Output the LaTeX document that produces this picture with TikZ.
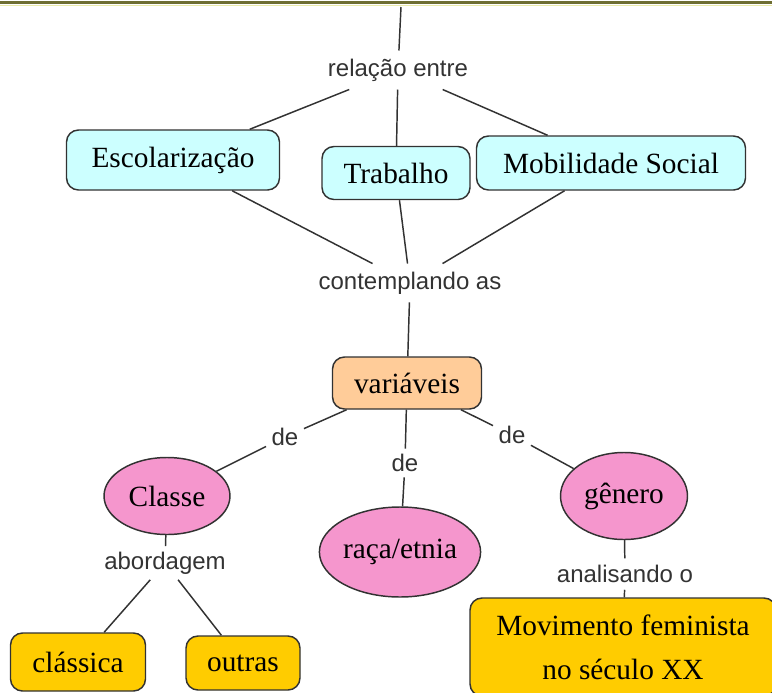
\documentclass[tikz,border=0pt]{standalone}
\usepackage{fontspec}
\setmainfont{Liberation Serif}
\setsansfont{Liberation Sans}
\usepackage{xcolor}
\usetikzlibrary{shapes.geometric}
\definecolor{mapCyan}{RGB}{204,255,255}
\definecolor{mapPeach}{RGB}{255,204,153}
\definecolor{mapPink}{RGB}{245,150,205}
\definecolor{mapGold}{RGB}{255,204,0}
\definecolor{mapLine}{RGB}{50,50,50}
\definecolor{mapOlive}{RGB}{110,110,50}
\definecolor{mapPale}{RGB}{235,235,170}

\tikzset{
  concept/.style={draw=mapLine, line width=1.1pt, rounded corners=9pt, inner sep=0pt,
    font=\fontsize{22}{33}\selectfont},
  bubble/.style={ellipse, draw=mapLine, line width=1.1pt, fill=mapPink, inner sep=0pt,
    font=\fontsize{22}{26}\selectfont},
  linkword/.style={font=\sffamily\fontsize{18}{21}\selectfont, text=black!80, inner sep=6pt},
  conn/.style={draw=mapLine, line width=1.1pt}
}

\begin{document}
\begin{tikzpicture}[x=0.75pt, y=-0.75pt]
\useasboundingbox (0,0) rectangle (772,693);
\clip (0,0) rectangle (772,693);
\fill[white] (0,0) rectangle (772,693);
\draw[mapOlive, line width=2.2pt] (0,2.5) -- (772,2.5);
\draw[mapPale, line width=0.9pt] (0,5.5) -- (772,5.5);

% top level
\coordinate (top) at (401,7);
\node[linkword] (rel) at (398,70) {relação entre};
\node[concept, fill=mapCyan, minimum width=159.75pt, minimum height=45pt] (esc) at (173,160) {Escolarização};
\node[concept, fill=mapCyan, minimum width=111pt, minimum height=39.75pt] (trab) at (396,173) {Trabalho};
\node[concept, fill=mapCyan, minimum width=201.75pt, minimum height=40.5pt] (mob) at (611,163) {Mobilidade Social};
\node[linkword] (cont) at (410,283) {contemplando as};
\node[concept, fill=mapPeach, minimum width=111.75pt, minimum height=39pt] (var) at (407,383) {variáveis};

% variables
\node[linkword, inner sep=4pt] (deA) at (285,437) {de};
\node[linkword, inner sep=4pt] (deB) at (405,463) {de};
\node[linkword, inner sep=4pt] (deC) at (512,435) {de};
\node[bubble, minimum width=94.5pt, minimum height=57.75pt] (classe) at (167,496) {Classe};
\node[bubble, minimum width=120pt, minimum height=67.5pt] (raca) at (400,552) {raça/etnia};
\node[bubble, minimum width=95.25pt, minimum height=65.25pt] (genero) at (624,496) {gênero};

% bottom
\node[linkword, inner sep=4pt] (abord) at (165,563) {abordagem};
\node[concept, fill=mapGold, minimum width=101.25pt, minimum height=43.5pt] (class) at (78,662) {clássica};
\node[concept, fill=mapGold, minimum width=85.5pt, minimum height=40.5pt] (outras) at (243,663) {outras};
\node[linkword, inner sep=5pt] (anal) at (625,574) {analisando o};
\node[concept, fill=mapGold, minimum width=229.5pt, minimum height=73.5pt, align=center] (movim) at (623,647)
  {Movimento feminista\\no século XX};

\draw[conn] (top) -- (rel);
\draw[conn] (rel) -- (esc);
\draw[conn] (rel) -- (trab);
\draw[conn] (rel) -- (mob);
\draw[conn] (esc) -- (cont);
\draw[conn] (trab) -- (cont);
\draw[conn] (mob) -- (cont);
\draw[conn] (cont) -- (var);
\draw[conn] (var) -- (deA);
\draw[conn] (deA) -- (classe);
\draw[conn] (var) -- (deB);
\draw[conn] (deB) -- (raca);
\draw[conn] (var) -- (deC);
\draw[conn] (deC) -- (genero);
\draw[conn] (classe) -- (abord);
\draw[conn] (abord) -- (class);
\draw[conn] (abord) -- (outras);
\draw[conn] (genero) -- (anal);
\draw[conn] (anal) -- (movim);
\end{tikzpicture}
\end{document}
